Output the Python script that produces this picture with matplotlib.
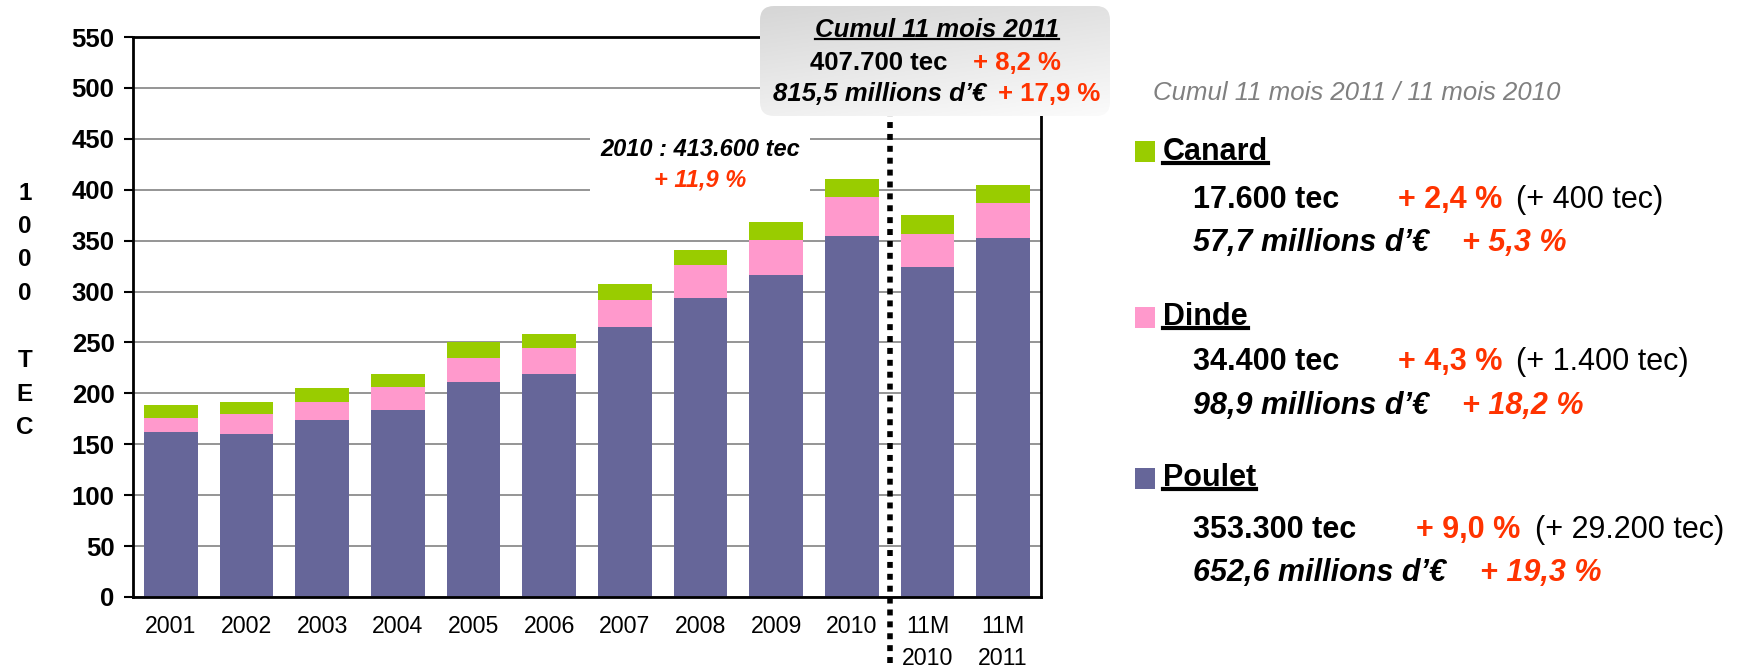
import numpy as np
import matplotlib.pyplot as plt
from matplotlib.patches import FancyBboxPatch, Rectangle
from matplotlib.lines import Line2D
from matplotlib.colors import LinearSegmentedColormap

plt.rcParams['font.family'] = ['Liberation Sans', 'DejaVu Sans']

# DATA (1000 TEC)
categories = ['2001', '2002', '2003', '2004', '2005', '2006', '2007', '2008',
              '2009', '2010', '11M\n2010', '11M\n2011']
poulet = [162, 160, 174, 184, 211, 219, 265, 294, 316, 355, 324, 353]
dinde = [14, 20, 18, 22, 24, 26, 27, 32, 35, 38, 33, 34]
canard = [13, 12, 13, 13, 15, 13, 15, 15, 17, 18, 18, 18]
y_ticks = list(range(0, 551, 50))

C_POULET = '#666699'
C_DINDE = '#FF99CC'
C_CANARD = '#99CC00'
RED = '#FF3300'

W, H = 1740, 671
fig = plt.figure(figsize=(W / 100, H / 100), dpi=100)


# HELPER: FIGURE TEXT PLACED IN PIXELS (FROM TOP-LEFT)
def ft(x, y, s, **kw):
    kw.setdefault('va', 'center')
    return fig.text(x / W, 1 - y / H, s, **kw)


# MAIN BAR CHART
ax = fig.add_axes([133 / W, 1 - 597 / H, (1041 - 133) / W, (597 - 37) / H])
x = np.arange(len(categories))
bw = 0.71
ax.bar(x, poulet, width=bw, color=C_POULET, zorder=2)
ax.bar(x, dinde, width=bw, bottom=poulet, color=C_DINDE, zorder=2)
ax.bar(x, canard, width=bw, bottom=np.add(poulet, dinde), color=C_CANARD, zorder=2)

ax.set_xlim(-0.5, 11.5)
ax.set_ylim(0, 550)
ax.set_yticks(y_ticks)
ax.set_yticklabels([str(v) for v in y_ticks], fontsize=18.5, fontweight='bold')
ax.set_xticks(x)
ax.set_xticklabels(categories, fontsize=16.7, linespacing=1.5)
ax.tick_params(axis='x', length=0, pad=13)
ax.tick_params(axis='y', length=6.3, width=1.5, pad=7)
ax.yaxis.grid(True, color='#8c8c8c', lw=1.3)
ax.set_axisbelow(True)
for sp in ax.spines.values():
    sp.set_linewidth(2)
    sp.set_color('black')

# DOTTED SEPARATOR
ax.axvline(9.5, ymin=-0.117, ymax=0.86, color='black', lw=4,
           linestyle=(0, (1.07, 1.07)), clip_on=False, zorder=3)

# Y LABEL, ONE CHAR PER LINE
for i, ch in enumerate('1000 TEC'):
    ft(25, 193 + 33.5 * i, ch, ha='center', fontsize=17.5, fontweight='bold')

# 2010 ANNOTATION WITH WHITE BACKGROUND
fig.add_artist(Rectangle((590 / W, 1 - 212 / H), 220 / W, 97 / H,
                         transform=fig.transFigure, facecolor='white',
                         edgecolor='none', zorder=2))
ft(700, 150, '2010 : 413.600 tec', ha='center', fontsize=17,
   fontweight='bold', style='italic', zorder=3)
ft(700, 180, '+ 11,9 %', ha='center', fontsize=17, fontweight='bold',
   style='italic', color=RED, zorder=3)

# TOP GRADIENT BOX
bx = fig.add_axes([760 / W, 1 - 116 / H, 350 / W, 110 / H])
bx.set_zorder(2)
bx.axis('off')
gy, gx = np.mgrid[0:1:100j, 0:1:100j]
grad = 0.7 * gy + 0.3 * gx
cmap = LinearSegmentedColormap.from_list('g', ['#d6d6d6', '#fbfbfb'])
im = bx.imshow(grad, extent=[0, 1, 0, 1], aspect='auto', cmap=cmap, origin='upper')
clip = FancyBboxPatch((0, 0), 1, 1, boxstyle='round,pad=0,rounding_size=0.04',
                      mutation_aspect=350 / 110, transform=bx.transAxes,
                      facecolor='none', edgecolor='none')
bx.add_patch(clip)
im.set_clip_path(clip)
bx.set_xlim(0, 1)
bx.set_ylim(0, 1)

t_cumul = ft(937, 30, 'Cumul 11 mois 2011', ha='center', fontsize=18.5,
             fontweight='bold', style='italic', zorder=4)
ft(810, 63, '407.700 tec', fontsize=18.5, fontweight='bold', zorder=4)
ft(973, 63, '+ 8,2 %', fontsize=18.5, fontweight='bold', color=RED, zorder=4)
ft(773, 94, '815,5 millions d\u2019\u20ac', fontsize=18.5, fontweight='bold',
   style='italic', zorder=4)
ft(998, 94, '+ 17,9 %', fontsize=18.5, fontweight='bold', color=RED, zorder=4)

# RIGHT PANEL
ft(1153, 93, 'Cumul 11 mois 2011 / 11 mois 2010', fontsize=18.5,
   style='italic', color='#808080')

titles = []
for name, col, yc in [('Canard', C_CANARD, 152), ('Dinde', C_DINDE, 317),
                      ('Poulet', C_POULET, 478)]:
    fig.add_artist(Rectangle((1135 / W, 1 - (yc + 10.5) / H), 20 / W, 21 / H,
                             transform=fig.transFigure, facecolor=col,
                             edgecolor='none'))
    titles.append(ft(1163, yc, name, fontsize=22, fontweight='bold'))

ft(1193, 200, '17.600 tec', fontsize=22, fontweight='bold')
ft(1398, 200, '+ 2,4 %', fontsize=22, fontweight='bold', color=RED)
ft(1516, 200, '(+ 400 tec)', fontsize=22)
ft(1193, 243, '57,7 millions d\u2019\u20ac', fontsize=22, fontweight='bold', style='italic')
ft(1462, 243, '+ 5,3 %', fontsize=22, fontweight='bold', style='italic', color=RED)

ft(1193, 362, '34.400 tec', fontsize=22, fontweight='bold')
ft(1398, 362, '+ 4,3 %', fontsize=22, fontweight='bold', color=RED)
ft(1516, 362, '(+ 1.400 tec)', fontsize=22)
ft(1193, 406, '98,9 millions d\u2019\u20ac', fontsize=22, fontweight='bold', style='italic')
ft(1462, 406, '+ 18,2 %', fontsize=22, fontweight='bold', style='italic', color=RED)

ft(1193, 530, '353.300 tec', fontsize=22, fontweight='bold')
ft(1416, 530, '+ 9,0 %', fontsize=22, fontweight='bold', color=RED)
ft(1535, 530, '(+ 29.200 tec)', fontsize=22)
ft(1193, 573, '652,6 millions d\u2019\u20ac', fontsize=22, fontweight='bold', style='italic')
ft(1480, 573, '+ 19,3 %', fontsize=22, fontweight='bold', style='italic', color=RED)

# UNDERLINES UNDER TITLES
fig.canvas.draw()
r = fig.canvas.get_renderer()
for t, lw in [(t_cumul, 1.6)] + [(t, 3.0) for t in titles]:
    bb = t.get_window_extent(r)
    fs = t.get_fontsize() * 100 / 72
    yl = bb.y0 + 0.12 * fs
    fig.add_artist(Line2D([bb.x0 / W, bb.x1 / W], [yl / H, yl / H],
                          transform=fig.transFigure, color='black', lw=lw, zorder=4))

fig.savefig('out.png', dpi=100)
